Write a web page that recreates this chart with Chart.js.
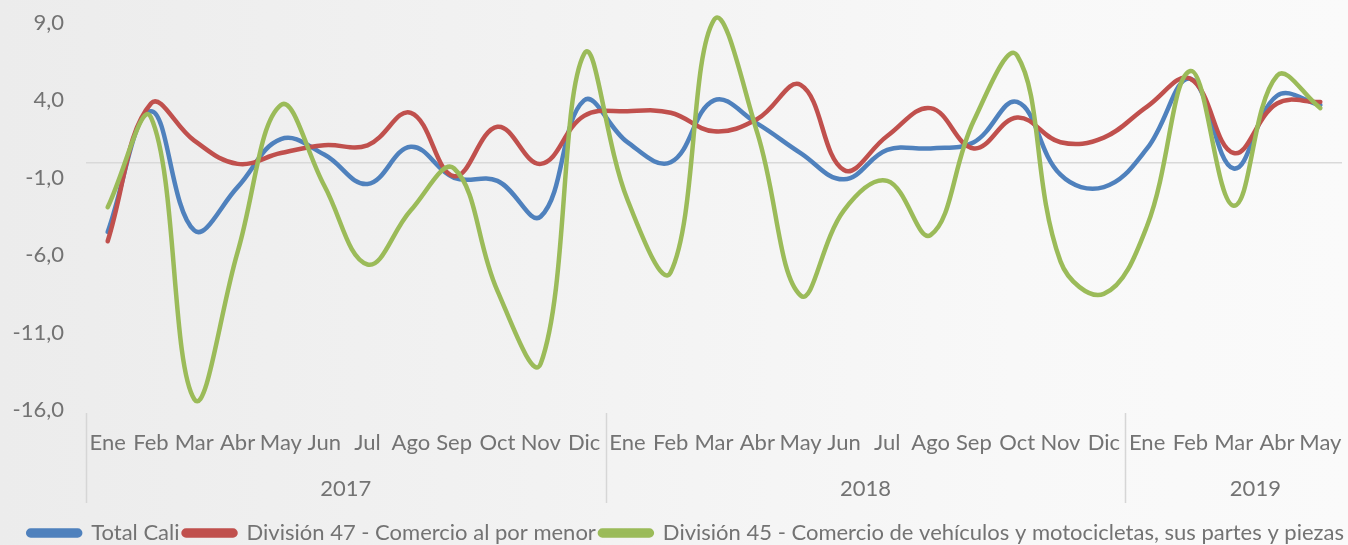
<!DOCTYPE html>
<html><head><meta charset="utf-8">
<script src="https://cdn.jsdelivr.net/npm/chart.js@4.4.1/dist/chart.umd.min.js"></script>
<style>
html,body{margin:0;padding:0;width:1348px;height:545px;overflow:hidden;
background:linear-gradient(90deg,#ececec 0%,#f2f2f2 40%,#f8f8f8 75%,#fafafa 100%);}
#wrap{position:relative;width:1348px;height:545px;}
</style></head><body>
<div id="wrap"><canvas id="c"></canvas></div>
<script>
const months = ['Ene','Feb','Mar','Abr','May','Jun','Jul','Ago','Sep','Oct','Nov','Dic',
                'Ene','Feb','Mar','Abr','May','Jun','Jul','Ago','Sep','Oct','Nov','Dic',
                'Ene','Feb','Mar','Abr','May'];
const years = ['2017','2018','2019'];
const yearSpans = [12, 12, 6];
const yTickValues = [-16, -11, -6, -1, 4, 9];

const totalCali = [-4.5, 3.3, -4.4, -1.6, 1.5, 0.5, -1.4, 1.0, -1.0, -1.2, -3.5, 4.0,
                   1.3, 0.0, 4.0, 2.5, 0.6, -1.1, 0.8, 0.9, 1.3, 3.9, -0.8, -1.6,
                   0.9, 5.4, -0.4, 4.3, 3.7];
const division47 = [-5.1, 3.8, 1.4, -0.1, 0.6, 1.1, 1.1, 3.2, -0.9, 2.3, -0.1, 3.0,
                    3.3, 3.2, 2.0, 2.8, 5.0, -0.5, 1.7, 3.5, 0.9, 2.9, 1.3, 1.6,
                    3.6, 5.4, 0.6, 3.8, 3.9];
const division45 = [-2.9, 2.9, -15.3, -5.8, 3.7, -1.5, -6.6, -3.1, -0.4, -8.3, -13.0, 7.0,
                    -2.4, -7.1, 9.2, 1.9, -8.6, -3.1, -1.2, -4.7, 2.7, 6.9, -6.4, -8.5,
                    -4.1, 5.9, -2.8, 5.6, 3.5];

const seriesNames = ['Total Cali', 'División 47 - Comercio al por menor',
  'División 45 - Comercio de vehículos y motocicletas, sus partes y piezas'];
const seriesColors = ['#4f81bd', '#c0504d', '#9bbb59'];

const FONT = {family: "Lato, 'Liberation Sans', sans-serif", size: 22};
const TXT = '#737373';

// year group centres on the linear companion axis
const yearCenters = [];
let start = 0;
yearSpans.forEach(s => { yearCenters.push(start + s / 2 - 0.5); start += s; });
const yearBounds = [0, 12, 24];

const dividerPlugin = {
  id: 'yearDividers',
  afterDraw(chart) {
    const x = chart.scales.x, x2 = chart.scales.x2, ca = chart.chartArea;
    const step = x.getPixelForValue(1) - x.getPixelForValue(0);
    const ctx = chart.ctx;
    ctx.save();
    ctx.strokeStyle = '#d6d6d6';
    ctx.lineWidth = 1.5;
    yearBounds.forEach(b => {
      const px = Math.round(x.getPixelForValue(b) - step / 2) + 0.5;
      ctx.beginPath();
      ctx.moveTo(px, ca.bottom + 3);
      ctx.lineTo(px, x2.top + 40);
      ctx.stroke();
    });
    ctx.restore();
  }
};

const mk = (i, data, order) => ({
  label: seriesNames[i], data,
  borderColor: seriesColors[i], backgroundColor: seriesColors[i],
  borderWidth: 4.5, pointRadius: 0, pointHoverRadius: 0, tension: 0.4,
  borderCapStyle: 'round', borderJoinStyle: 'round', fill: false, order, clip: false
});

const noPadV = s => { s.paddingTop = 0; s.paddingBottom = 0; };
const noPadH = s => { s.paddingLeft = 0; s.paddingRight = 0; };

new Chart(document.getElementById('c'), {
  type: 'line',
  data: {
    labels: months,
    datasets: [mk(0, totalCali, 3), mk(1, division47, 2), mk(2, division45, 1)]
  },
  plugins: [dividerPlugin],
  options: {
    responsive: true, maintainAspectRatio: false, animation: false, devicePixelRatio: 1,
    layout: {padding: {top: 23, right: 0, left: 12, bottom: -9}},
    elements: {line: {capBezierPoints: false}},
    scales: {
      y: {
        min: -16, max: 9,
        afterBuildTicks: s => { s.ticks = [...yTickValues, 0].sort((a, b) => a - b).map(v => ({value: v})); },
        afterFit: s => { s.width = 74; noPadV(s); },
        ticks: {padding: 22, color: TXT, font: FONT,
          callback: v => v === 0 ? '' : v.toFixed(1).replace('.', ',')},
        grid: {drawTicks: false, lineWidth: 1.5,
          color: c => (c.tick && c.tick.value === 0) ? '#d9d9d9' : 'rgba(0,0,0,0)'},
        border: {display: false}
      },
      yR: {
        position: 'right', min: -16, max: 9,
        ticks: {display: false}, grid: {display: false, drawTicks: false}, border: {display: false},
        afterFit: s => { s.width = 6; noPadV(s); }
      },
      x: {
        type: 'category', offset: true, position: 'bottom',
        grid: {display: false, drawTicks: false},
        border: {display: false},
        ticks: {autoSkip: false, maxRotation: 0, padding: 20, color: TXT, font: FONT},
        afterFit: s => { s.height = 53; noPadH(s); }
      },
      x2: {
        type: 'linear', position: 'bottom', min: -0.5, max: months.length - 0.5,
        afterBuildTicks: s => { s.ticks = yearCenters.map(v => ({value: v})); },
        grid: {display: false, drawTicks: false},
        border: {display: false},
        ticks: {autoSkip: false, maxRotation: 0, padding: 13, color: TXT, font: FONT,
          callback: v => { const i = yearCenters.indexOf(v); return i >= 0 ? years[i] : ''; }},
        afterFit: s => { s.height = 55; noPadH(s); }
      }
    },
    plugins: {
      legend: {
        position: 'bottom', align: 'end',
        labels: {
          boxWidth: 52, boxHeight: 5, useBorderRadius: true, borderRadius: 2.5,
          padding: 4, color: TXT, font: FONT,
          sort: (a, b) => a.datasetIndex - b.datasetIndex
        }
      },
      tooltip: {enabled: false}
    }
  }
});
</script>
</body></html>
